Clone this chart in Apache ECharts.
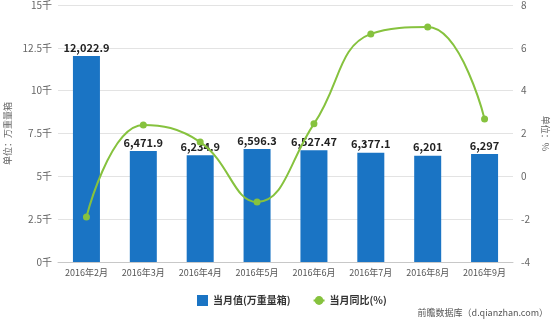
<!DOCTYPE html>
<html><head><meta charset="utf-8">
<script src="https://cdn.jsdelivr.net/npm/echarts@6/dist/echarts.min.js"></script>
<style>html,body{margin:0;padding:0;background:#fff}#c{width:552px;height:324px}</style>
</head><body><div id="c"></div>
<script>
const categories = ['2016年2月','2016年3月','2016年4月','2016年5月','2016年6月','2016年7月','2016年8月','2016年9月'];
const monthValues = [12022.9, 6471.9, 6234.9, 6596.3, 6527.47, 6377.1, 6201, 6297];
const yoyValues = [-1.9, 2.4, 1.6, -1.2, 2.45, 6.65, 6.97, 2.68];
const leftTicks = {min: 0, max: 15000, interval: 2500};
const rightTicks = {min: -4, max: 8, interval: 2};
const seriesNames = ['当月值(万重量箱)', '当月同比(%)'];
const leftName = '单位：万重量箱';
const rightName = '单位：%';
const sourceText = '前瞻数据库（d.qianzhan.com）';

const font = 'Noto Sans CJK SC, Noto Sans, sans-serif';
const chart = echarts.init(document.getElementById('c'), null, {renderer: 'canvas'});
chart.setOption({
  animation: false,
  textStyle: {fontFamily: font},
  grid: {left: 58, right: 39, top: 5, bottom: 62, outerBoundsMode: 'none', containLabel: false},
  legend: {
    data: [{name: seriesNames[0], icon: 'rect'}, {name: seriesNames[1]}],
    left: 192, top: 290, itemWidth: 11, itemHeight: 11, itemGap: 22,
    textStyle: {fontSize: 10, fontWeight: 'bold', color: '#333', fontFamily: font}
  },
  graphic: [{
    type: 'text', right: 4, top: 308,
    style: {text: sourceText, fontSize: 9, fill: '#555', fontFamily: font}
  }],
  xAxis: {
    type: 'category', data: categories,
    axisLine: {lineStyle: {color: '#c8c8c8'}},
    axisTick: {alignWithLabel: true, length: 4, lineStyle: {color: '#c8c8c8'}},
    axisLabel: {interval: 0, fontSize: 9, color: '#555', margin: 6}
  },
  yAxis: [{
    type: 'value', min: leftTicks.min, max: leftTicks.max, interval: leftTicks.interval,
    name: leftName, nameLocation: 'middle', nameRotate: 90, nameGap: 32,
    nameTextStyle: {fontSize: 9, color: '#666'},
    axisLine: {show: false}, axisTick: {show: false},
    axisLabel: {fontSize: 10, color: '#666', margin: 6, formatter: v => (v / 1000) + '千'},
    splitLine: {lineStyle: {color: '#e3e3e3'}}
  }, {
    type: 'value', min: rightTicks.min, max: rightTicks.max, interval: rightTicks.interval,
    name: rightName, nameLocation: 'middle', nameRotate: -90, nameGap: 24,
    nameTextStyle: {fontSize: 9, color: '#666'},
    axisLine: {show: false}, axisTick: {show: false},
    axisLabel: {fontSize: 10, color: '#666', margin: 8},
    splitLine: {show: false}
  }],
  series: [{
    name: seriesNames[0], type: 'bar', data: monthValues, barWidth: 27,
    itemStyle: {color: '#1a74c4'},
    label: {show: true, position: 'top', distance: 3, fontSize: 11, fontWeight: 'bold', color: '#222',
      formatter: p => p.value.toLocaleString('en-US')}
  }, {
    name: seriesNames[1], type: 'line', yAxisIndex: 1, data: yoyValues, smooth: 0.45,
    symbol: 'circle', symbolSize: 7,
    lineStyle: {color: '#86c23e', width: 2}, itemStyle: {color: '#86c23e'}
  }]
});
</script></body></html>
